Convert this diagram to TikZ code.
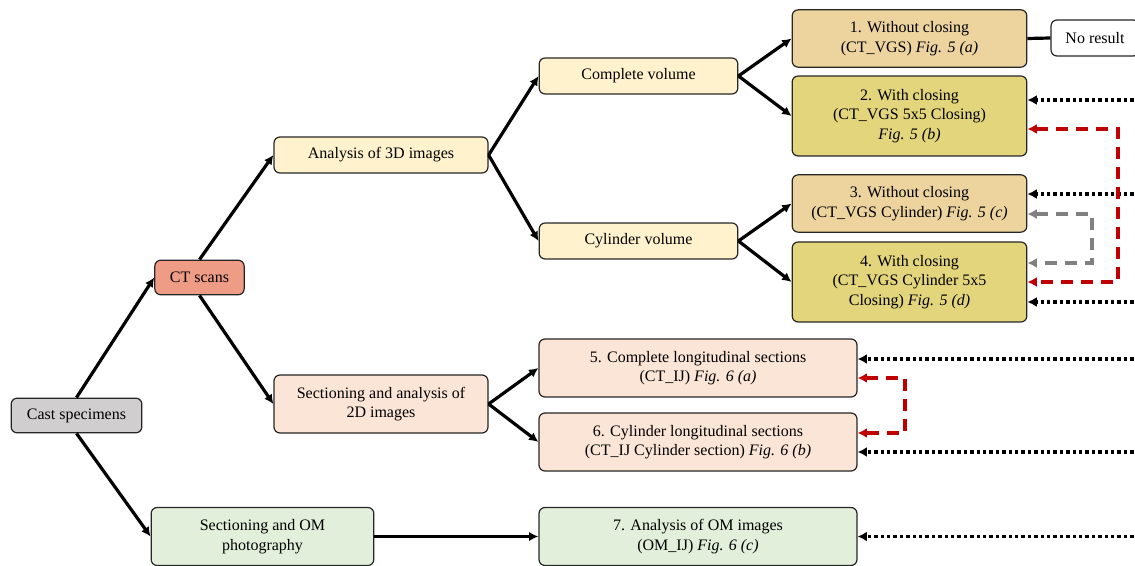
\documentclass[tikz,border=0pt]{standalone}
\usepackage{fontspec}
\setmainfont{Liberation Serif}
\usetikzlibrary{arrows.meta}
\definecolor{castgray}{HTML}{D0CECE}
\definecolor{ctred}{HTML}{EF9C87}
\definecolor{lightyellow}{HTML}{FFF2CC}
\definecolor{tan}{HTML}{EDD49F}
\definecolor{khaki}{HTML}{E3D57B}
\definecolor{peach}{HTML}{FBE5D6}
\definecolor{lightgreen}{HTML}{E2EFDA}
\definecolor{linkred}{HTML}{C00000}
\definecolor{linkgray}{HTML}{808080}

\begin{document}
\begin{tikzpicture}[x=0.75pt, y=-0.75pt, font=\fontsize{12}{14.6}\selectfont,
  box/.style={draw=black!85, line width=0.9pt, rounded corners=4.5pt,
    align=center, inner sep=1pt},
  flow/.style={line width=2.4pt, -{Latex[length=7pt,width=7pt]}},
  feed/.style={line width=2.8pt, dash pattern=on 2.6pt off 2.2pt,
    -{Latex[length=7pt,width=7.5pt]}},
  link/.style={line width=2.3pt, dash pattern=on 9pt off 6pt,
    {Latex[length=7pt,width=7.5pt]}-{Latex[length=7pt,width=7.5pt]}}]

\useasboundingbox (0,0) rectangle (1135,566);
\clip (0,0) rectangle (1135,566);

%% ------------------------------------------------------------------
%% left part: specimens, scans and the two sectioning routes
%% ------------------------------------------------------------------
\node[box, fill=castgray, minimum width=98pt, minimum height=26pt]
  (cast) at (76.5,415.5) {Cast specimens};
\node[box, fill=ctred, minimum width=67pt, minimum height=26pt]
  (ct) at (199.5,277.5) {CT scans};
\node[box, fill=lightyellow, minimum width=160.5pt, minimum height=27pt]
  (img3d) at (381,155) {Analysis of 3D images};
\node[box, fill=peach, minimum width=160.5pt, minimum height=43.5pt]
  (sec2d) at (381,404) {Sectioning and analysis of\\2D images};
\node[box, fill=lightgreen, minimum width=167pt, minimum height=43.5pt]
  (secom) at (262.5,536.5) {Sectioning and OM\\photography};

%% volumes
\node[box, fill=lightyellow, minimum width=149pt, minimum height=27pt]
  (complete) at (638.5,76) {Complete volume};
\node[box, fill=lightyellow, minimum width=149pt, minimum height=27pt]
  (cylinder) at (638.5,241) {Cylinder volume};

%% ------------------------------------------------------------------
%% results 1--7
%% ------------------------------------------------------------------
\node[box, fill=tan, minimum width=176pt, minimum height=43pt]
  (noclose) at (909.5,38.5) {1. Without closing\\(CT\_VGS) \textit{Fig. 5 (a)}};
\node[box, fill=khaki, minimum width=176pt, minimum height=60pt]
  (close) at (909.5,116) {2. With closing\\(CT\_VGS 5x5 Closing)\\\textit{Fig. 5 (b)}};
\node[box, fill=tan, minimum width=176pt, minimum height=43pt]
  (cylnoclose) at (909.5,203.5) {3. Without closing\\(CT\_VGS Cylinder) \textit{Fig. 5 (c)}};
\node[box, fill=khaki, minimum width=176pt, minimum height=60pt]
  (cylclose) at (909.5,282) {4. With closing\\(CT\_VGS Cylinder 5x5\\Closing) \textit{Fig. 5 (d)}};
\node[box, fill=peach, minimum width=238.5pt, minimum height=43.5pt]
  (fullsec) at (698,368) {5. Complete longitudinal sections\\(CT\_IJ) \textit{Fig. 6 (a)}};
\node[box, fill=peach, minimum width=238.5pt, minimum height=43.5pt]
  (cylsec) at (698,442) {6. Cylinder longitudinal sections\\(CT\_IJ Cylinder section) \textit{Fig. 6 (b)}};
\node[box, fill=lightgreen, minimum width=238.5pt, minimum height=43.5pt]
  (omimg) at (698,536.5) {7. Analysis of OM images\\(OM\_IJ) \textit{Fig. 6 (c)}};
\node[box, fill=white, minimum width=66pt, minimum height=27pt]
  (noresult) at (1095,38) {No result};

%% main flow
\draw[flow] (cast.north) -- (ct.west);
\draw[flow] (cast.south) -- (secom.west);
\draw[flow] (ct.north) -- (img3d.west);
\draw[flow] (ct.south) -- (sec2d.west);
\draw[flow] (secom.east) -- (omimg.west);
\draw[flow] (img3d.east) -- (complete.west);
\draw[flow] (img3d.east) -- (cylinder.west);
\draw[flow] (sec2d.east) -- (fullsec.west);
\draw[flow] (sec2d.east) -- (cylsec.west);
\draw[flow] (complete.east) -- (noclose.west);
\draw[flow] (complete.east) -- (close.west);
\draw[flow] (cylinder.east) -- (cylnoclose.west);
\draw[flow] (cylinder.east) -- (cylclose.west);
\draw[line width=2.4pt] (noclose.east) -- (noresult.west);

%% comparisons coming in from the right
\coordinate (in2) at (1140,100);
\coordinate (in3) at (1140,194);
\coordinate (in4) at (1140,302);
\coordinate (in5) at (1140,359);
\coordinate (in6) at (1140,452);
\coordinate (in7) at (1140,536.5);
\draw[feed] (in2) -- (in2 -| close.east);
\draw[feed] (in3) -- (in3 -| cylnoclose.east);
\draw[feed] (in4) -- (in4 -| cylclose.east);
\draw[feed] (in5) -- (in5 -| fullsec.east);
\draw[feed] (in6) -- (in6 -| cylsec.east);
\draw[feed] (in7) -- (omimg.east);

%% links between pairs of results
\coordinate (redturn) at (1118,282);
\coordinate (grayturn) at (1092,263);
\coordinate (secturn) at (905,433);
\draw[link, linkred] ([yshift=-9.75pt]close.east) -| (redturn) -- (cylclose.east);
\draw[link, linkgray] ([yshift=-7.9pt]cylnoclose.east) -| (grayturn)
  -- ([yshift=14.25pt]cylclose.east);
\draw[link, linkred] ([yshift=-7.5pt]fullsec.east) -| (secturn)
  -- ([yshift=6.75pt]cylsec.east);

\end{tikzpicture}
\end{document}
